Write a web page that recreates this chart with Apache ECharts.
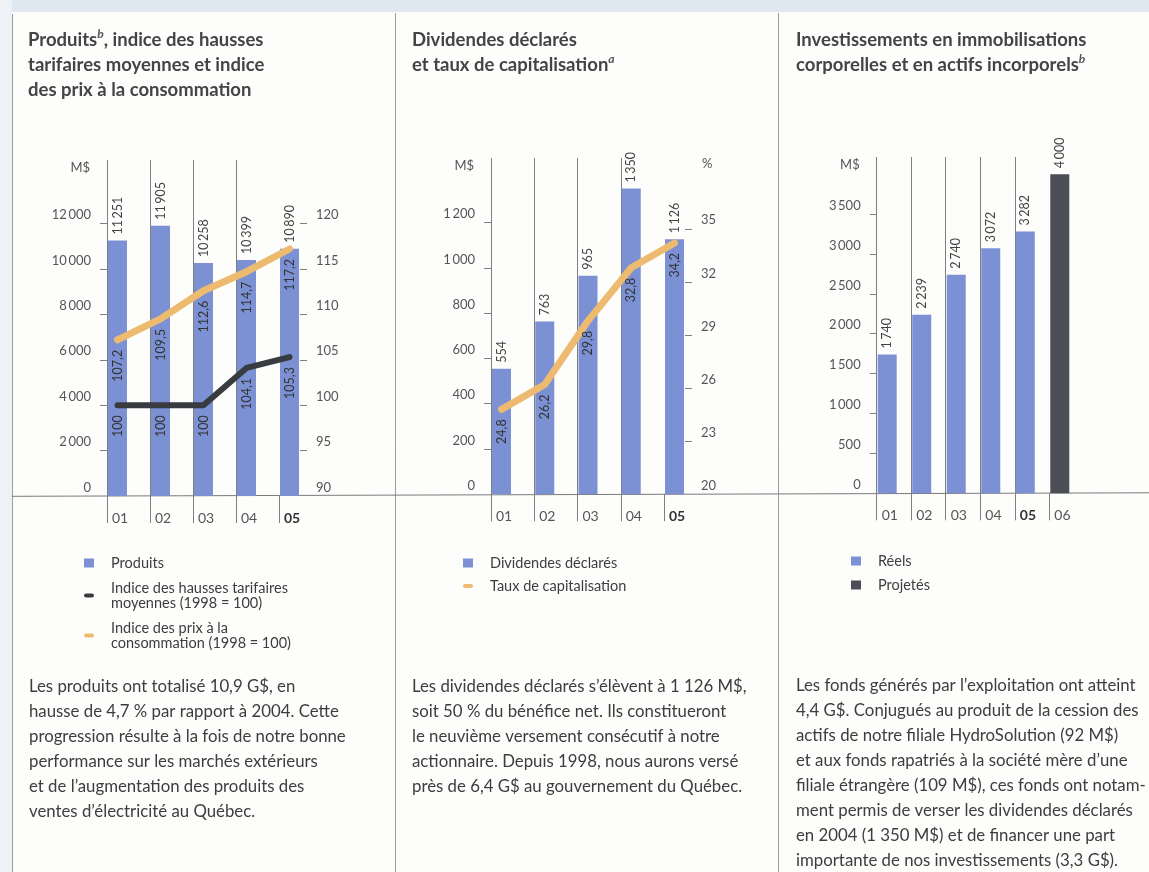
<!DOCTYPE html>
<html>
<head>
<meta charset="utf-8">
<script src="https://cdn.jsdelivr.net/npm/echarts@6/dist/echarts.min.js"></script>
<style>
  html, body { margin: 0; padding: 0; background: #fdfdfc; }
  #chart { width: 1149px; height: 872px; }
</style>
</head>
<body>
<div id="chart"></div>
<script>
// Produits, indice des hausses tarifaires moyennes, indice des prix
const annees = ['01', '02', '03', '04', '05'];
const produits = [11251, 11905, 10258, 10399, 10890];
const hausses = [100, 100, 100, 104.1, 105.3];
const ipc = [107.2, 109.5, 112.6, 114.7, 117.2];
const ticksProduits = [0, 2000, 4000, 6000, 8000, 10000, 12000];
const ticksIndice = [90, 95, 100, 105, 110, 115, 120];

// Dividendes déclarés et taux de capitalisation
const dividendes = [554, 763, 965, 1350, 1126];
const taux = [24.8, 26.2, 29.8, 32.8, 34.2];
const ticksDiv = [0, 200, 400, 600, 800, 1000, 1200];
const ticksTaux = [20, 23, 26, 29, 32, 35];

// Investissements
const anneesInv = ['01', '02', '03', '04', '05', '06'];
const reels = [1740, 2239, 2740, 3072, 3282];
const projetes = [4000];
const ticksInv = [0, 500, 1000, 1500, 2000, 2500, 3000, 3500];

const FONT = 'Lato';
const BLEU = '#7b91d4';
const ORANGE = '#ecbb70';
const NOIR = '#383b40';
const GRIS_BARRE = '#4b4e56';
const TEXTE = '#3d3d3d';
const AXE = '#555';
const TRAIT = '#7f7f7f';
const TIRET = 'path://M0,0M10,9M2,2.5h6a2,2 0 0 1 0,4h-6a2,2 0 0 1 0,-4z';

function milliers (v) {
  return String(v).replace(/\B(?=(\d{3})+(?!\d))/g, '\u2009');
}
function decimale (v) {
  return String(v).replace('.', ',');
}

const grid = [];
const xAxis = [];
const yAxis = [];
const series = [];

// un panneau = une grille pour les traits verticaux + une grille décalée pour les barres
function addPanel (p) {
  const n = p.cats.length;
  const w = p.band * n;
  const h = p.base - p.top;
  const dataLeft = p.x0 + 10.5 - p.band / 2;
  const g = grid.length;
  grid.push({ left: p.x0, top: p.top, width: w, height: h });
  grid.push({ left: dataLeft, top: p.top, width: w, height: h });

  const idx = Array.from({ length: n }, (_, i) => i);
  const xi = xAxis.length;
  xAxis.push({
    gridIndex: g,
    type: 'value',
    min: 0,
    max: n,
    interval: 1,
    axisLine: { show: false },
    splitLine: { show: true, showMaxLine: false, lineStyle: { color: TRAIT, width: 1 } },
    axisTick: { show: true, customValues: idx, length: 27, lineStyle: { color: TRAIT } },
    axisLabel: {
      customValues: idx,
      align: 'left',
      margin: 15,
      formatter: v => p.cats[v] === p.bold ? '{b|' + p.cats[v] + '}' : p.cats[v],
      padding: [0, 0, 0, 5],
      color: AXE,
      fontSize: 14,
      fontFamily: FONT,
      rich: { b: { fontWeight: 'bold', fontSize: 14, fontFamily: FONT, color: '#333' } }
    }
  });
  xAxis.push({ gridIndex: g + 1, type: 'category', data: p.cats, show: false });

  const yi = yAxis.length;
  yAxis.push({ gridIndex: g, type: 'value', show: false });
  yAxis.push({
    gridIndex: g + 1,
    type: 'value',
    position: 'left',
    offset: dataLeft - p.x0,
    min: 0,
    max: p.leftMax,
    name: 'M$',
    nameLocation: 'end',
    nameGap: -8,
    nameTextStyle: { align: 'right', verticalAlign: 'middle', padding: [0, 17, 0, 0], color: AXE, fontSize: 13, fontFamily: FONT },
    axisLine: { show: false },
    splitLine: { show: false },
    axisTick: { show: true, length: 7, customValues: p.leftTicks.slice(1), lineStyle: { color: TRAIT } },
    axisLabel: {
      customValues: p.leftTicks,
      formatter: v => milliers(v),
      margin: 16,
      verticalAlign: 'bottom',
      padding: [0, 0, 2, 0],
      color: AXE,
      fontSize: 13,
      fontFamily: FONT
    }
  });
  if (p.rightTicks) {
    const rightX = p.x0 + (n - 1) * p.band + 21;
    yAxis.push({
      gridIndex: g + 1,
      type: 'value',
      position: 'right',
      offset: rightX - (dataLeft + w),
      min: p.rightTicks[0],
      max: p.rightMax,
      name: p.rightName || '',
      nameLocation: 'end',
      nameGap: -6,
      nameTextStyle: { align: 'left', verticalAlign: 'middle', padding: [0, 0, 0, 17], color: AXE, fontSize: 13, fontFamily: FONT },
      axisLine: { show: false },
      splitLine: { show: false },
      axisTick: { show: true, length: 7, customValues: p.rightTicks.slice(1), lineStyle: { color: TRAIT } },
      axisLabel: {
        customValues: p.rightTicks,
        margin: 16,
        verticalAlign: 'bottom',
        padding: [0, 0, 2, 0],
        color: AXE,
        fontSize: 13,
        fontFamily: FONT
      }
    });
  }
  return { x: xi + 1, yLeft: yi + 1, yRight: yi + 2 };
}

const barLabel = {
  show: true,
  position: 'top',
  rotate: 90,
  align: 'left',
  verticalAlign: 'middle',
  distance: 6,
  formatter: p => (p.value == null ? '' : milliers(p.value)),
  color: '#444',
  fontSize: 12.5,
  fontFamily: FONT
};
const lineLabel = {
  show: true,
  position: 'bottom',
  rotate: 90,
  align: 'right',
  verticalAlign: 'middle',
  distance: 9,
  formatter: p => decimale(p.value),
  color: '#333',
  fontSize: 12.5,
  fontFamily: FONT
};

function lineSerie (name, a, data, color, width) {
  return {
    type: 'line',
    name: name,
    xAxisIndex: a.x,
    yAxisIndex: a.yRight,
    data: data,
    symbol: 'circle',
    symbolSize: 2,
    itemStyle: { color: color },
    lineStyle: { color: color, width: width, cap: 'round', join: 'round' },
    label: lineLabel,
    z: 3
  };
}

// panneau 1
const a1 = addPanel({
  cats: annees, bold: '05', x0: 107, band: 43, top: 160, base: 496,
  leftMax: 14800, leftTicks: ticksProduits, rightTicks: ticksIndice, rightMax: 127
});
series.push({
  type: 'bar', name: 'Produits', xAxisIndex: a1.x, yAxisIndex: a1.yLeft,
  data: produits, barWidth: 19, itemStyle: { color: BLEU }, label: barLabel
});
series.push(lineSerie('Indice des hausses tarifaires\nmoyennes (1998 = 100)', a1, hausses, NOIR, 6));
series.push(lineSerie('Indice des prix à la\nconsommation (1998 = 100)', a1, ipc, ORANGE, 7));

// panneau 2
const a2 = addPanel({
  cats: annees, bold: '05', x0: 491, band: 43.25, top: 158, base: 494.3,
  leftMax: 1485, leftTicks: ticksDiv, rightTicks: ticksTaux, rightMax: 39, rightName: '%'
});
series.push({
  type: 'bar', name: 'Dividendes déclarés', xAxisIndex: a2.x, yAxisIndex: a2.yLeft,
  data: dividendes, barWidth: 19, itemStyle: { color: BLEU }, label: barLabel
});
series.push(lineSerie('Taux de capitalisation', a2, taux, ORANGE, 7));

// panneau 3
const a3 = addPanel({
  cats: anneesInv, bold: '05', x0: 876.7, band: 34.52, top: 157, base: 493.3,
  leftMax: 4215, leftTicks: ticksInv
});
series.push({
  type: 'bar', name: 'Réels', xAxisIndex: a3.x, yAxisIndex: a3.yLeft,
  data: reels.concat(anneesInv.slice(reels.length).map(() => null)),
  barWidth: 19, barGap: '-100%', itemStyle: { color: BLEU }, label: barLabel
});
series.push({
  type: 'bar', name: 'Projetés', xAxisIndex: a3.x, yAxisIndex: a3.yLeft,
  data: anneesInv.slice(projetes.length).map(() => null).concat(projetes),
  barWidth: 19, barGap: '-100%', itemStyle: { color: GRIS_BARRE }, label: barLabel
});

const titreStyle = {
  fontFamily: FONT,
  fontSize: 18.5,
  fontWeight: 'bold',
  color: '#444',
  lineHeight: 25,
  rich: { sup: { fontFamily: FONT, fontSize: 12, fontStyle: 'italic', color: '#555', verticalAlign: 'top', lineHeight: 18 } }
};
const texteStyle = {
  fontFamily: FONT,
  fontSize: 16.8,
  fontWeight: 'normal',
  color: TEXTE,
  lineHeight: 25
};

const para1 = [
  'Les produits ont totalisé 10,9 G$, en',
  'hausse de 4,7 % par rapport à 2004. Cette',
  'progression résulte à la fois de notre bonne',
  'performance sur les marchés extérieurs',
  'et de l’augmentation des produits des',
  'ventes d’électricité au Québec.'
].join('\n');
const para2 = [
  'Les dividendes déclarés s’élèvent à 1 126 M$,',
  'soit 50 % du bénéfice net. Ils constitueront',
  'le neuvième versement consécutif à notre',
  'actionnaire. Depuis 1998, nous aurons versé',
  'près de 6,4 G$ au gouvernement du Québec.'
].join('\n');
const para3 = [
  'Les fonds générés par l’exploitation ont atteint',
  '4,4 G$. Conjugués au produit de la cession des',
  'actifs de notre filiale HydroSolution (92 M$)',
  'et aux fonds rapatriés à la société mère d’une',
  'filiale étrangère (109 M$), ces fonds ont notam-',
  'ment permis de verser les dividendes déclarés',
  'en 2004 (1 350 M$) et de financer une part',
  'importante de nos investissements (3,3 G$).'
].join('\n');

const legendBase = {
  orient: 'vertical',
  itemWidth: 10,
  itemHeight: 9,
  padding: 0,
  selectedMode: false,
  itemStyle: { borderWidth: 0 },
  textStyle: { fontFamily: FONT, fontSize: 14.5, lineHeight: 15, color: TEXTE, padding: [0, 0, 0, 12] }
};

const chart = echarts.init(document.getElementById('chart'));
chart.setOption({
  backgroundColor: '#fdfdfc',
  animation: false,
  title: [
    { left: 28, top: 28, padding: 0, text: 'Produits{sup|b}, indice des hausses\ntarifaires moyennes et indice\ndes prix à la consommation', textStyle: titreStyle },
    { left: 412, top: 28, padding: 0, text: 'Dividendes déclarés\net taux de capitalisation{sup|a}', textStyle: titreStyle },
    { left: 796, top: 28, padding: 0, text: 'Investissements en immobilisations\ncorporelles et en actifs incorporels{sup|b}', textStyle: titreStyle },
    { left: 29, top: 674, padding: 0, text: para1, textStyle: texteStyle },
    { left: 412, top: 674, padding: 0, text: para2, textStyle: texteStyle },
    { left: 796, top: 673, padding: 0, text: para3, textStyle: texteStyle }
  ],
  legend: [
    Object.assign({}, legendBase, {
      left: 84, top: 555.5, itemGap: 10,
      data: [
        { name: 'Produits', icon: 'rect' },
        { name: 'Indice des hausses tarifaires\nmoyennes (1998 = 100)', icon: TIRET },
        { name: 'Indice des prix à la\nconsommation (1998 = 100)', icon: TIRET }
      ]
    }),
    Object.assign({}, legendBase, {
      left: 463, top: 555.5, itemGap: 8,
      data: [
        { name: 'Dividendes déclarés', icon: 'rect' },
        { name: 'Taux de capitalisation', icon: TIRET }
      ]
    }),
    Object.assign({}, legendBase, {
      left: 851, top: 553.5, itemGap: 9,
      data: [
        { name: 'Réels', icon: 'rect' },
        { name: 'Projetés', icon: 'rect' }
      ]
    })
  ],
  graphic: [
    { type: 'rect', silent: true, z: -10, shape: { x: 0, y: 0, width: 1149, height: 12 }, style: { fill: '#dfe8f1' } },
    { type: 'rect', silent: true, z: -10, shape: { x: 0, y: 0, width: 12, height: 872 }, style: { fill: '#eef2f6' } },
    { type: 'line', silent: true, shape: { x1: 12.5, y1: 14, x2: 12.5, y2: 872 }, style: { stroke: '#9c9c9c', lineWidth: 1 } },
    { type: 'line', silent: true, shape: { x1: 395.5, y1: 13, x2: 395.5, y2: 872 }, style: { stroke: '#9c9c9c', lineWidth: 1 } },
    { type: 'line', silent: true, shape: { x1: 778.5, y1: 13, x2: 778.5, y2: 872 }, style: { stroke: '#9c9c9c', lineWidth: 1 } },
    { type: 'line', silent: true, shape: { x1: 12, y1: 496.3, x2: 1149, y2: 492.8 }, style: { stroke: '#7a7a7a', lineWidth: 1 } }
  ],
  grid: grid,
  xAxis: xAxis,
  yAxis: yAxis,
  series: series
});
</script>
</body>
</html>
